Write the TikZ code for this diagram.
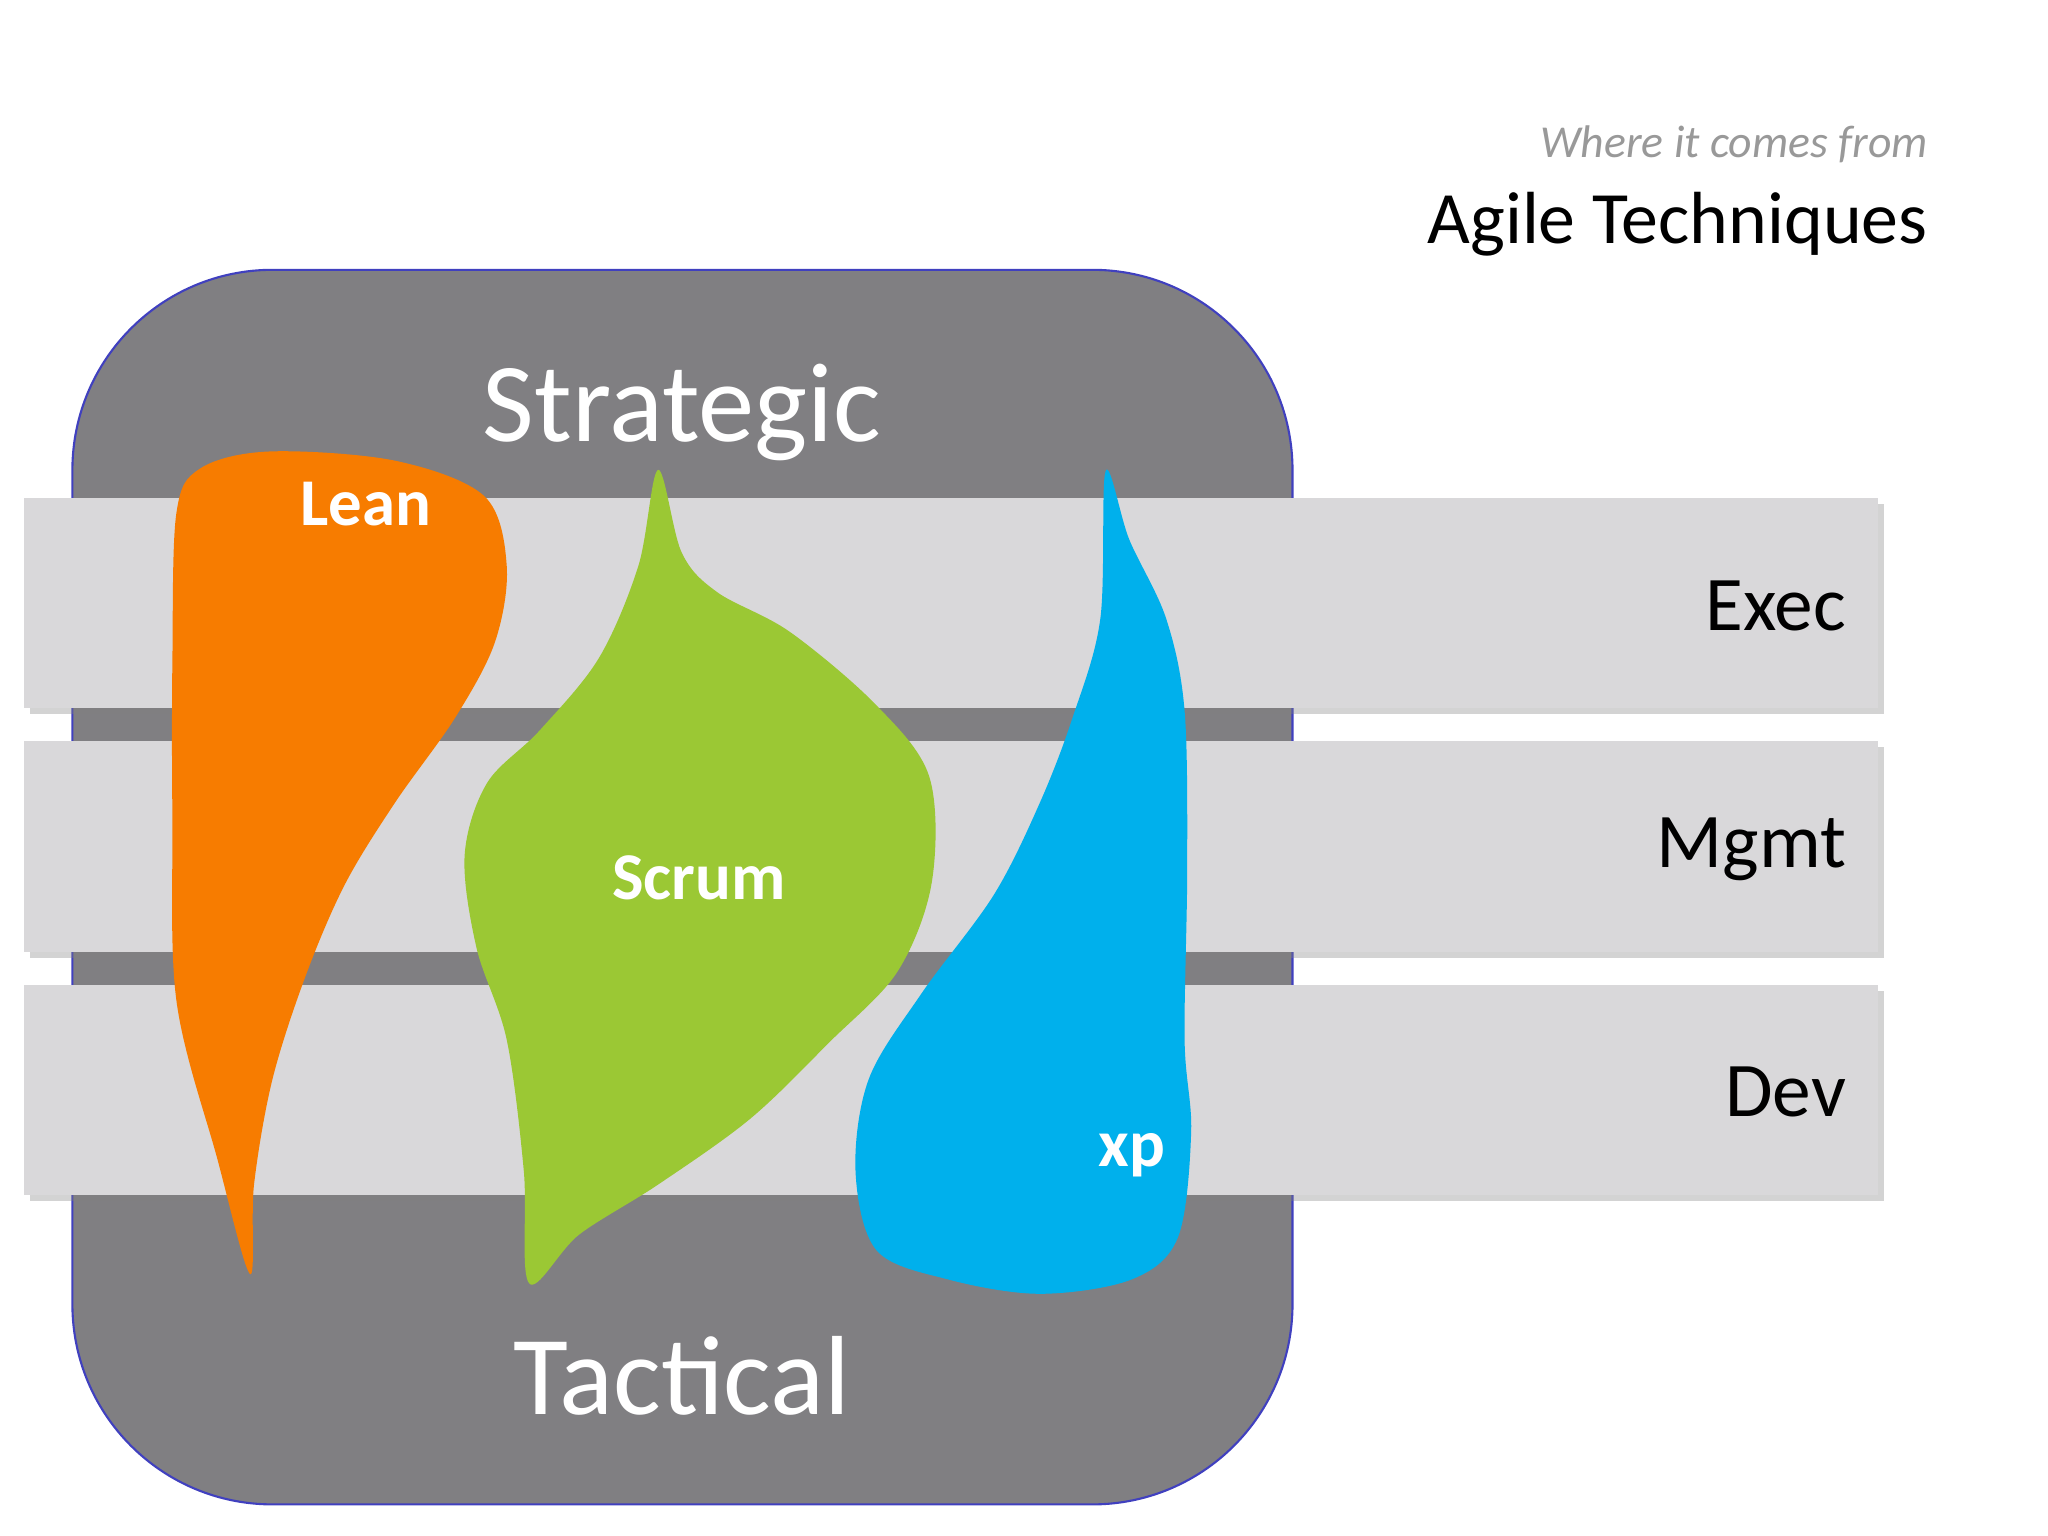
\documentclass[tikz,border=0pt]{standalone}
\usepackage{fontspec}
\setmainfont{Carlito}
\usetikzlibrary{shadows}
\definecolor{frame}{RGB}{128,127,130}
\definecolor{band}{RGB}{217,216,218}
\definecolor{leanc}{RGB}{247,124,0}
\definecolor{scrumc}{RGB}{155,200,52}
\definecolor{xpc}{RGB}{0,176,236}
\begin{document}
\begin{tikzpicture}[x=0.01316cm,y=-0.01316cm,
        bandbox/.style={fill=band, draw=none, drop shadow={shadow xshift=0.6mm, shadow yshift=-0.6mm, opacity=0.35}},
        blob/.style={draw=none, smooth cycle, tension=0.55},
        bandlabel/.style={anchor=east, font=\fontsize{22}{26}\selectfont},
        bloblabel/.style={text=white, font=\bfseries\fontsize{19}{22}\selectfont},
        levellabel/.style={text=white, font=\fontsize{32}{38}\selectfont},
        ]
        \useasboundingbox (0,0) rectangle (1556,1167);
        %Frame
        \node[draw=blue!50!gray, fill=frame, rounded corners=2cm, minimum width=927*0.01316cm,
              minimum height=938*0.01316cm, line width=0.6pt] (frame) at (518.5,674) {};
        \node[levellabel] (strategic) at (518,313) {Strategic};
        \node[levellabel] (tactical) at (518,1045) {Tactical};
        %Bands
        \foreach \y/\name/\txt in {378/exec/Exec/PMO, 563/mgmt/Mgmt/Project, 748/dev/Dev/Delivery}{
          \path[bandbox] (18,\y) rectangle (1427,\y+160);
          \node[bandlabel] (\name) at (1412,\y+82) {\txt};
        }
        %Blobs
        \fill[leanc] plot[blob] coordinates {(190,968) (165,880) (134,760) (131,620) (131,500)
          (134,390) (152,356) (205,343) (300,350) (368,377) (385,430) (376,488) (346,545)
          (300,610) (262,672) (232,742) (207,820) (193,900)};
        \fill[scrumc] plot[blob] coordinates {(500,357) (518,420) (545,450) (600,480) (665,535)
          (706,590) (708,670) (682,738) (630,792) (570,850) (500,900) (440,938) (402,975)
          (398,890) (385,790) (362,720) (353,650) (370,595) (410,555) (455,500) (485,430)};
        \fill[xpc] plot[blob] coordinates {(840,358) (858,410) (886,470) (900,540) (902,660)
          (900,790) (905,860) (895,940) (860,972) (790,983) (720,972) (666,950) (650,890)
          (660,820) (700,755) (755,680) (790,610) (815,545) (836,470)};
        \node[bloblabel] (lean) at (278,383) {Lean};
        \node[bloblabel] (scrum) at (531,667) {Scrum};
        \node[bloblabel] (xp) at (860,878) {xp};
        %Title
        \node[anchor=east, text=gray!80, font=\itshape\fontsize{13}{16}\selectfont] (sub) at (1474,110) {Where it comes from};
        \node[anchor=east, font=\fontsize{21}{25}\selectfont] (title) at (1474,170) {Agile Techniques};
\end{tikzpicture}
\end{document}
